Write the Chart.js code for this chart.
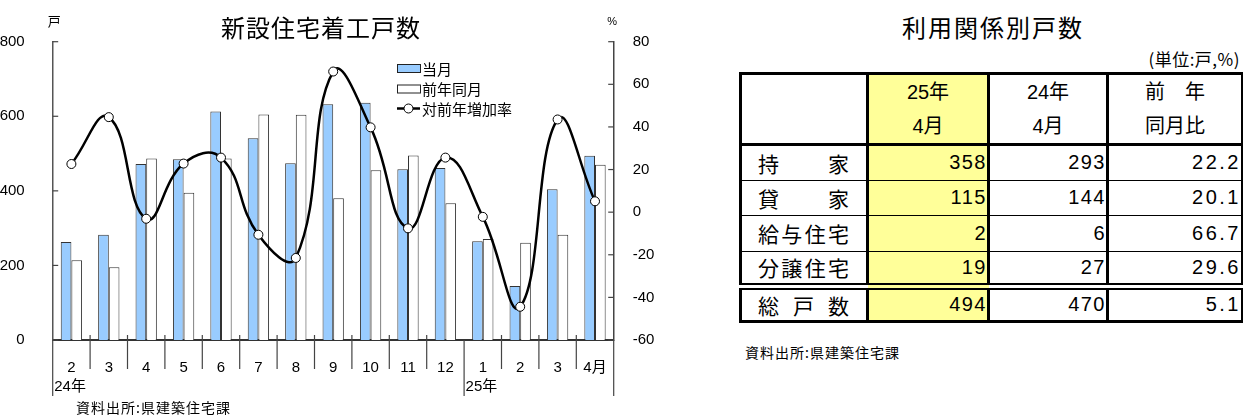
<!DOCTYPE html>
<html lang="ja">
<head>
<meta charset="utf-8">
<title>新設住宅着工戸数</title>
<script src="https://cdn.jsdelivr.net/npm/chart.js@4.4.1/dist/chart.umd.min.js"></script>
<style>
  body { margin: 0; width: 1243px; height: 417px; background: #fff; position: relative; overflow: hidden;
         font-family: "Liberation Sans", "Noto Sans CJK JP", sans-serif; color: #000; }
  #chartBox { position: absolute; left: 0; top: 0; width: 660px; height: 417px; }
  #tblTitle { position: absolute; left: 880px; top: 9px; width: 226px; text-align: center;
              font: 24px "Noto Sans CJK JP", sans-serif; letter-spacing: 2px; }
  #tblUnit { position: absolute; right: 3px; top: 46px; font: 17px "Noto Sans CJK JP", sans-serif; letter-spacing: 0.5px; }
  #tblNote { position: absolute; left: 745px; top: 342px; font: 14px "Noto Sans CJK JP", sans-serif; letter-spacing: 1px; }
  #useTable { position: absolute; left: 739px; top: 72px; width: 502px; border-collapse: collapse;
              table-layout: fixed; border: 3px solid #000; }
  #useTable td { padding: 0; border: 1px solid #000; border-left: 3px solid #000; border-right: 3px solid #000; }
  #useTable tr.head td { border-bottom: 3px solid #000; text-align: center; font: 20px "Liberation Sans", "Noto Sans CJK JP", sans-serif; line-height: 34px; }
  #useTable tr.total td { border-top: 7px double #000; }
  #useTable td.yel { background: #ffff99; }
  #useTable td.num { text-align: right; font-size: 20px; letter-spacing: 1.5px; }
  #useTable td.pct { text-align: right; font-size: 20px; letter-spacing: 2.5px; }
  .lab { display: flex; justify-content: space-between; padding: 0 17px 0 16px; font: 21px "Noto Sans CJK JP", sans-serif; }
</style>
</head>
<body>
<div id="chartBox"><canvas id="mainChart" width="660" height="417"></canvas></div>

<div id="tblTitle"></div>
<div id="tblUnit"></div>
<table id="useTable">
  <colgroup><col style="width:127px"><col style="width:121px"><col style="width:119px"><col style="width:135px"></colgroup>
  <tbody></tbody>
</table>
<div id="tblNote"></div>

<script>
// ---- chart data ----
const months = ['2', '3', '4', '5', '6', '7', '8', '9', '10', '11', '12', '1', '2', '3', '4月'];
const yearLabels = ['24年', '25年'];
const yearStarts = [0, 11];
const currentMonth = [263, 282, 472, 485, 613, 541, 474, 632, 636, 458, 461, 265, 145, 404, 494];
const prevYearMonth = [214, 195, 487, 395, 487, 605, 604, 380, 455, 495, 367, 271, 261, 282, 470];
const growthRate = [22.6, 44.6, -3.1, 22.8, 25.6, -10.6, -21.5, 66.0, 39.8, -7.6, 25.6, -2.2, -44.4, 43.5, 5.1];

// ---- table data ----
const tableTitle = '利用関係別戸数';
const tableUnit = '(単位:戸,%)';
const colHeads = [['25年', '4月'], ['24年', '4月'], ['前　年', '同月比']];
const rowLabels = ['持家', '貸家', '給与住宅', '分譲住宅', '総戸数'];
const thisYear = [358, 115, 2, 19, 494];
const lastYear = [293, 144, 6, 27, 470];
const yoyRatio = ['22.2', '20.1', '66.7', '29.6', '5.1'];
const sourceNote = '資料出所:県建築住宅課';

const LATIN = '"Liberation Sans", "Noto Sans CJK JP", sans-serif';
const CJK = '"Noto Sans CJK JP", sans-serif';

/* ================= TABLE ================= */
function buildTable() {
    document.getElementById('tblTitle').textContent = tableTitle;
    document.getElementById('tblUnit').textContent = tableUnit;
    document.getElementById('tblNote').textContent = sourceNote;

    const heights = [69, 35.5, 35.5, 35.5, 35, 35];
    let html = `<tr class="head" style="height:${heights[0]}px"><td></td>` +
        colHeads.map((h, i) => `<td${i === 0 ? ' class="yel"' : ''}>${h[0]}<br>${h[1]}</td>`).join('') + '</tr>';

    rowLabels.forEach((label, i) => {
        const chars = label.split('').map(c => `<span>${c}</span>`).join('');
        const cls = i === rowLabels.length - 1 ? ' class="total"' : '';
        html += `<tr${cls} style="height:${heights[i + 1]}px">
            <td><div class="lab">${chars}</div></td>
            <td class="num yel">${thisYear[i]}</td>
            <td class="num">${lastYear[i]}</td>
            <td class="pct">${yoyRatio[i]}</td>
        </tr>`;
    });
    document.querySelector('#useTable tbody').innerHTML = html;
}

/* ================= CHART ================= */
// extra drawing: inward ticks, month separators, year labels, titles, legend
const decorations = {
    id: 'decorations',
    afterDraw(chart) {
        const { ctx, chartArea: area, scales: { x, y, y2 } } = chart;
        ctx.save();
        ctx.strokeStyle = '#444';
        ctx.lineWidth = 1.2;

        // inward tick marks on both value axes
        y.ticks.forEach(t => {
            const py = y.getPixelForValue(t.value);
            ctx.beginPath(); ctx.moveTo(area.left, py); ctx.lineTo(area.left + 5.5, py); ctx.stroke();
        });
        y2.ticks.forEach(t => {
            const py = y2.getPixelForValue(t.value);
            ctx.beginPath(); ctx.moveTo(area.right - 5.5, py); ctx.lineTo(area.right, py); ctx.stroke();
        });

        // separators between months, longer ones at year boundaries
        const half = (x.getPixelForValue(1) - x.getPixelForValue(0)) / 2;
        for (let i = 0; i <= months.length; i++) {
            const px = i < months.length ? x.getPixelForValue(i) - half : x.getPixelForValue(i - 1) + half;
            const longLine = i === 0 || i === months.length || yearStarts.includes(i);
            ctx.beginPath();
            ctx.moveTo(px, area.bottom - (longLine ? 0 : 5));
            ctx.lineTo(px, area.bottom + (longLine ? 56 : 29));
            ctx.stroke();
        }

        ctx.fillStyle = '#000';
        ctx.textBaseline = 'middle';
        ctx.font = `15px ${LATIN}`;
        ctx.textAlign = 'left';
        yearLabels.forEach((lab, i) => {
            ctx.fillText(lab, x.getPixelForValue(yearStarts[i]) - half + 1.5, area.bottom + 47);
        });

        // title, unit labels, source
        ctx.textAlign = 'center';
        ctx.font = `24px ${CJK}`;
        ctx.letterSpacing = '1px';
        ctx.fillText('新設住宅着工戸数', 321, 28);
        ctx.letterSpacing = '0px';
        ctx.font = `13px ${CJK}`;
        ctx.fillText('戸', area.left + 1.5, 21);
        ctx.font = `11px ${LATIN}`;
        ctx.fillText('%', area.right - 1.5, 22);
        ctx.textAlign = 'left';
        ctx.font = `14px ${CJK}`;
        ctx.letterSpacing = '1px';
        ctx.fillText(sourceNote, 76, 408);
        ctx.letterSpacing = '0px';

        // legend
        const lx = 397, rows = [68, 88.5, 108.5];
        const ds = chart.data.datasets;
        const legendItems = [ds[1], ds[2], ds[0]];
        ctx.font = `15px ${CJK}`;
        legendItems.forEach((d, i) => {
            const cy = rows[i];
            if (d.type === 'bar') {
                ctx.fillStyle = d.backgroundColor;
                ctx.fillRect(lx, cy - 4, 23, 8);
                ctx.strokeStyle = '#222';
                ctx.lineWidth = 1;
                ctx.strokeRect(lx + 0.5, cy - 3.5, 23, 8);
            } else {
                ctx.strokeStyle = d.borderColor;
                ctx.lineWidth = 2.5;
                ctx.beginPath(); ctx.moveTo(lx, cy); ctx.lineTo(lx + 23, cy); ctx.stroke();
                ctx.beginPath(); ctx.arc(lx + 11.5, cy, 4.5, 0, Math.PI * 2);
                ctx.fillStyle = '#fff'; ctx.fill();
                ctx.lineWidth = 1; ctx.stroke();
            }
            ctx.fillStyle = '#000';
            ctx.fillText(d.label, lx + 25, cy + 1);
        });
        ctx.restore();
    }
};

function renderChart() {
    const tickFont = { size: 15, family: LATIN };
    new Chart(document.getElementById('mainChart'), {
        data: {
            labels: months,
            datasets: [
                {
                    type: 'line', label: '対前年増加率', data: growthRate, yAxisID: 'y2', order: 0,
                    borderColor: '#000', borderWidth: 2.5, tension: 0.45,
                    pointRadius: 4.5, pointBackgroundColor: '#fff', pointBorderColor: '#000', pointBorderWidth: 1
                },
                {
                    type: 'bar', label: '当月', data: currentMonth, yAxisID: 'y', order: 1,
                    backgroundColor: '#99ccff', borderColor: '#333', borderWidth: 1,
                    categoryPercentage: 0.57, barPercentage: 1
                },
                {
                    type: 'bar', label: '前年同月', data: prevYearMonth, yAxisID: 'y', order: 2,
                    backgroundColor: '#ffffff', borderColor: '#333', borderWidth: 1,
                    categoryPercentage: 0.57, barPercentage: 1
                }
            ]
        },
        options: {
            responsive: false,
            animation: false,
            layout: { padding: { top: 41.7, left: 0, right: 0, bottom: 0 } },
            plugins: { legend: { display: false }, tooltip: { enabled: false } },
            scales: {
                x: {
                    grid: { display: false },
                    border: { display: true, color: '#333', width: 2 },
                    ticks: { color: '#000', font: tickFont, padding: 11, maxRotation: 0, autoSkip: false },
                    afterFit(s) { s.height = 77; }
                },
                y: {
                    position: 'left', min: 0, max: 800,
                    grid: { display: false },
                    border: { display: true, color: '#555', width: 1.5 },
                    ticks: { stepSize: 200, padding: 20, color: '#000', font: tickFont },
                    afterFit(s) { s.width = 52.7; }
                },
                y2: {
                    position: 'right', min: -60, max: 80,
                    grid: { display: false },
                    border: { display: true, color: '#444', width: 1.5 },
                    ticks: { stepSize: 20, padding: 11, color: '#000', font: tickFont },
                    afterFit(s) { s.width = 46.3; }
                }
            }
        },
        plugins: [decorations]
    });
}

buildTable();
renderChart();
</script>
</body>
</html>
